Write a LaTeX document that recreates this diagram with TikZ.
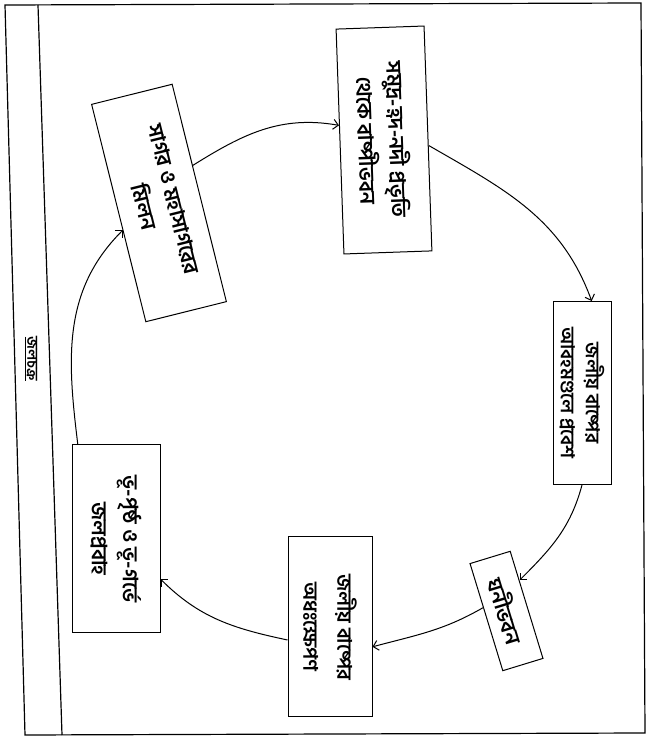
\documentclass[tikz,border=0pt]{standalone}
\usepackage{fontspec}
\newfontfamily\bnfont[Script=Bengali]{Hind Siliguri}
\usetikzlibrary{arrows.meta}

\begin{document}
\begin{tikzpicture}[x=1pt,y=1pt,text centered,
  stage/.style={draw,line width=1pt,inner sep=0pt,align=center,
    font=\bnfont\bfseries\fontsize{21}{31}\selectfont},
  flow/.style={-{Straight Barb[length=5pt,width=10pt]},line width=1pt}]
  \useasboundingbox (0,0) rectangle (648,740);

  % sheet border and title strip
  \draw[line width=1.2pt] (5,735) -- (641,737) -- (645,7) -- (25,5) -- cycle;
  \draw[line width=1.2pt] (38,735) -- (62,5);
  \node (TITL) at (31,381) [rotate=-90,font=\bnfont\bfseries\fontsize{15}{17}\selectfont] {\underline{জলচক্র}};

  \node (EVAP) at (384,600) [stage,rotate=-88,minimum width=225pt,minimum height=88pt] {সমুদ্র-হ্রদ-নদী প্রভৃতি\\থেকে বাষ্পীভবন};
  \node (VAPR) at (582,347) [stage,rotate=-90,minimum width=183pt,minimum height=58pt,
    font=\bnfont\bfseries\fontsize{19}{25}\selectfont] {জলীয় বাষ্পের\\আবহমণ্ডলে প্রবেশ};
  \node (COND) at (506.5,129) [stage,rotate=-73,minimum width=112pt,minimum height=42pt] {ঘনীভবন};
  \node (PREC) at (330,113) [stage,rotate=-90,minimum width=180pt,minimum height=84pt,
    font=\bnfont\bfseries\fontsize{20}{34}\selectfont] {জলীয় বাষ্পের\\অধঃক্ষেপণ};
  \node (FLOW) at (116,201) [stage,rotate=-90,minimum width=188pt,minimum height=88pt] {ভূ-পৃষ্ঠ ও ভূ-গর্ভে\\জলপ্রবাহ};
  \node (SEAS) at (159,537) [stage,rotate=-76,minimum width=224pt,minimum height=83pt] {সাগর ও মহাসাগরের\\মিলন};

  \draw[flow] (SEAS.124) to[out=32,in=170] (EVAP.250);
  \draw[flow] (EVAP.81) to[out=-30,in=110] (VAPR.174);
  \draw[flow] (VAPR.east) to[out=-105,in=45] (COND.140);
  \draw[flow] (COND.245) to[out=210,in=15] (PREC.65);
  \draw[flow] (PREC.287) to[out=168,in=-45] (FLOW.48);
  \draw[flow] (FLOW.202) to[out=97,in=225] (SEAS.293);

\end{tikzpicture}
\end{document}
